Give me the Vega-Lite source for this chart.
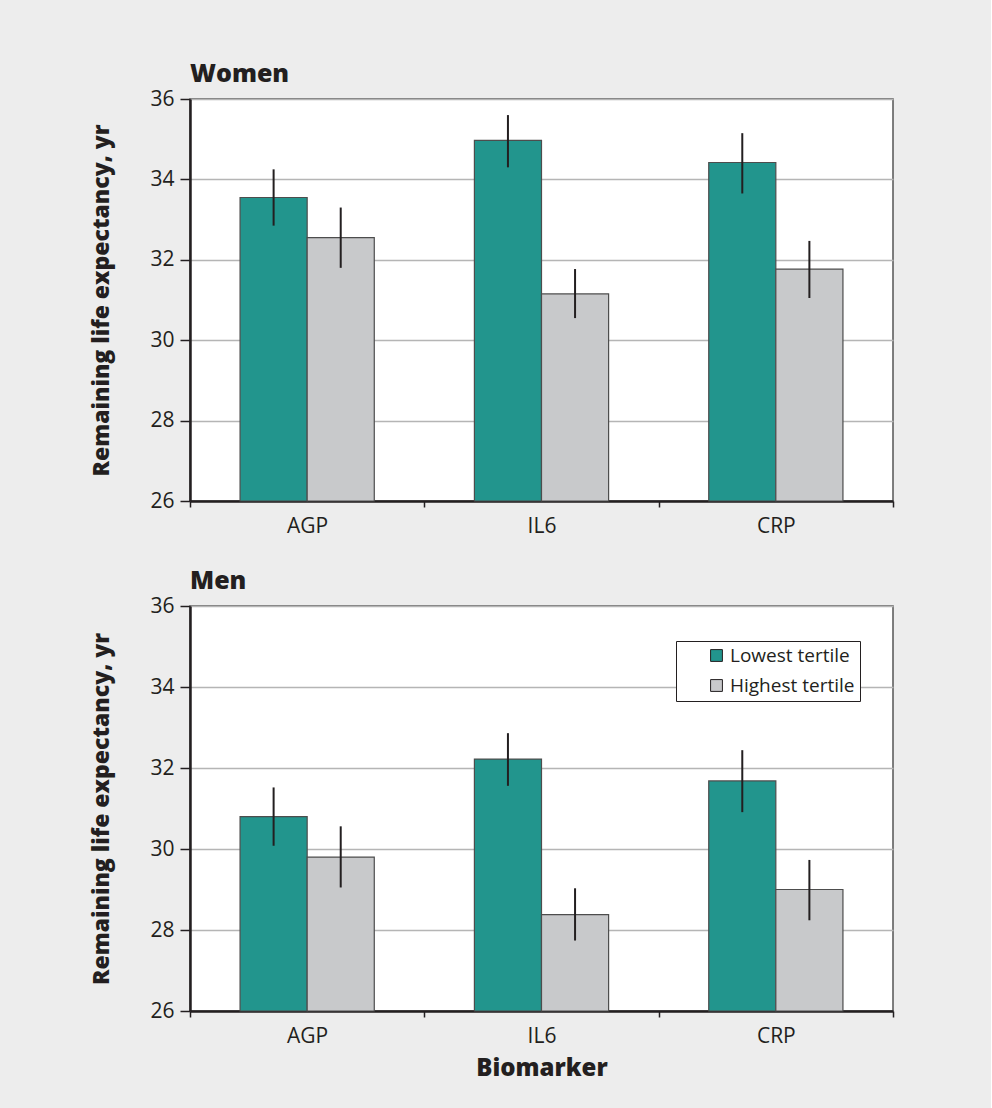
{
  "$schema": "https://vega.github.io/schema/vega-lite/v6.json",
  "background": "#ededed",
  "padding": {"left": 90, "top": 61, "right": 96, "bottom": 30},
  "datasets": {
    "d": [
      {"panel": "Women", "biomarker": "AGP", "tertile": "Lowest tertile", "value": 33.55, "lo": 32.85, "hi": 34.25},
      {"panel": "Women", "biomarker": "AGP", "tertile": "Highest tertile", "value": 32.55, "lo": 31.8, "hi": 33.3},
      {"panel": "Women", "biomarker": "IL6", "tertile": "Lowest tertile", "value": 34.97, "lo": 34.3, "hi": 35.6},
      {"panel": "Women", "biomarker": "IL6", "tertile": "Highest tertile", "value": 31.15, "lo": 30.55, "hi": 31.77},
      {"panel": "Women", "biomarker": "CRP", "tertile": "Lowest tertile", "value": 34.42, "lo": 33.65, "hi": 35.15},
      {"panel": "Women", "biomarker": "CRP", "tertile": "Highest tertile", "value": 31.77, "lo": 31.05, "hi": 32.47},
      {"panel": "Men", "biomarker": "AGP", "tertile": "Lowest tertile", "value": 30.8, "lo": 30.08, "hi": 31.52},
      {"panel": "Men", "biomarker": "AGP", "tertile": "Highest tertile", "value": 29.8, "lo": 29.05, "hi": 30.56},
      {"panel": "Men", "biomarker": "IL6", "tertile": "Lowest tertile", "value": 32.22, "lo": 31.56, "hi": 32.86},
      {"panel": "Men", "biomarker": "IL6", "tertile": "Highest tertile", "value": 28.38, "lo": 27.74, "hi": 29.03},
      {"panel": "Men", "biomarker": "CRP", "tertile": "Lowest tertile", "value": 31.68, "lo": 30.91, "hi": 32.44},
      {"panel": "Men", "biomarker": "CRP", "tertile": "Highest tertile", "value": 29.0, "lo": 28.24, "hi": 29.73}
    ]
  },
  "config": {
    "font": "Open Sans",
    "view": {"stroke": "#555555", "strokeWidth": 1.5, "fill": "white"},
    "axis": {
      "labelFont": "Open Sans", "labelFontSize": 21, "labelColor": "#231f20",
      "titleFont": "Open Sans", "titleFontWeight": 800, "titleFontSize": 23, "titleColor": "#231f20",
      "domainColor": "#231f20", "domainWidth": 2.5, "tickColor": "#231f20", "tickWidth": 1.5
    },
    "title": {"font": "Open Sans", "fontSize": 25, "fontWeight": 900, "color": "#231f20", "anchor": "start", "frame": "group", "offset": 1}
  },
  "resolve": {"legend": {"color": "independent"}},
  "spacing": 31,
  "vconcat": [
    {
      "title": "Women",
      "width": 703,
      "height": 402,
      "data": {"name": "d"},
      "transform": [{"filter": "datum.panel == 'Women'"}],
      "encoding": {
        "x": {"field": "biomarker", "type": "nominal", "sort": ["AGP", "IL6", "CRP"],
              "scale": {"paddingInner": 0, "paddingOuter": 0},
              "axis": {"title": null, "labelAngle": 0, "tickBand": "extent", "tickSize": 6, "labelPadding": 8}},
        "xOffset": {"field": "tertile", "sort": ["Lowest tertile", "Highest tertile"],
                    "scale": {"paddingInner": 0, "paddingOuter": 0.746}}
      },
      "layer": [
        {
          "mark": {"type": "bar", "stroke": "#4d4d4d", "strokeWidth": 1.2},
          "encoding": {
            "y": {"field": "value", "type": "quantitative",
                  "scale": {"domain": [26, 36], "zero": false, "nice": false},
                  "axis": {"title": "Remaining life expectancy, yr", "values": [26, 28, 30, 32, 34, 36],
                           "tickSize": 10, "labelPadding": 6, "titlePadding": 36,
                           "grid": true, "gridColor": "#b5b5b5", "gridWidth": 1.5}},
            "y2": {"datum": 26},
            "color": {"field": "tertile", "type": "nominal",
                      "scale": {"domain": ["Lowest tertile", "Highest tertile"], "range": ["#22958d", "#c8c9cb"]},
                      "legend": null}
          }
        },
        {
          "mark": {"type": "rule", "color": "#231f20", "strokeWidth": 2},
          "encoding": {"y": {"field": "lo", "type": "quantitative"}, "y2": {"field": "hi"}}
        }
      ]
    },
    {
      "title": "Men",
      "width": 703,
      "height": 405,
      "data": {"name": "d"},
      "transform": [{"filter": "datum.panel == 'Men'"}],
      "encoding": {
        "x": {"field": "biomarker", "type": "nominal", "sort": ["AGP", "IL6", "CRP"],
              "scale": {"paddingInner": 0, "paddingOuter": 0},
              "axis": {"title": "Biomarker", "titleFontSize": 24, "labelAngle": 0, "tickBand": "extent", "tickSize": 6, "labelPadding": 8, "titlePadding": 10}},
        "xOffset": {"field": "tertile", "sort": ["Lowest tertile", "Highest tertile"],
                    "scale": {"paddingInner": 0, "paddingOuter": 0.746}}
      },
      "layer": [
        {
          "mark": {"type": "bar", "stroke": "#4d4d4d", "strokeWidth": 1.2},
          "encoding": {
            "y": {"field": "value", "type": "quantitative",
                  "scale": {"domain": [26, 36], "zero": false, "nice": false},
                  "axis": {"title": "Remaining life expectancy, yr", "values": [26, 28, 30, 32, 34, 36],
                           "tickSize": 10, "labelPadding": 6, "titlePadding": 36,
                           "grid": true, "gridColor": "#b5b5b5", "gridWidth": 1.5}},
            "y2": {"datum": 26},
            "color": {"field": "tertile", "type": "nominal",
                      "scale": {"domain": ["Lowest tertile", "Highest tertile"], "range": ["#22958d", "#c8c9cb"]},
                      "legend": {"title": null, "orient": "none", "legendX": 486, "legendY": 35,
                                 "fillColor": "white", "strokeColor": "#231f20", "padding": 5,
                                 "labelFont": "Open Sans", "labelFontSize": 19, "labelColor": "#231f20",
                                 "symbolType": "square", "symbolSize": 140, "symbolStrokeColor": "#231f20",
                                 "symbolStrokeWidth": 1, "symbolOpacity": 1, "rowPadding": 10, "labelOffset": 4,
                                 "symbolOffset": 26}}
          }
        },
        {
          "mark": {"type": "rule", "color": "#231f20", "strokeWidth": 2},
          "encoding": {"y": {"field": "lo", "type": "quantitative"}, "y2": {"field": "hi"}}
        }
      ]
    }
  ]
}
